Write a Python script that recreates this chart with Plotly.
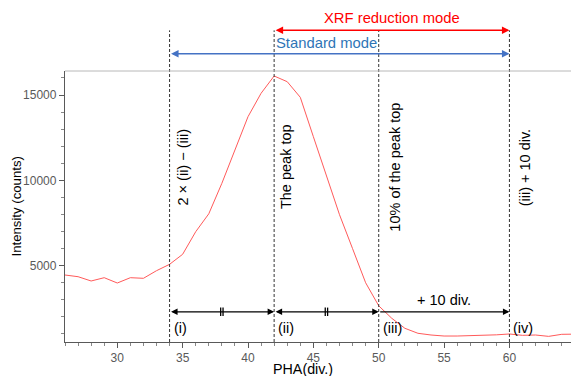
import plotly.graph_objects as go

# ---- data ----
pha = list(range(26, 66))
intensity = [4455, 4356, 4104, 4297, 3986, 4297, 4262, 4707, 5080, 5667,
             6992, 8040, 9827, 11778, 13729, 15100, 16113, 15779, 14865, 12557,
             10272, 7988, 6000, 4000, 2650, 1918, 1333, 1040, 940, 880,
             880, 890, 910, 950, 1000, 920, 940, 860, 980, 990]

marker_pos = [34, 42, 50, 60]
marker_labels = ["(i)", "(ii)", "(iii)", "(iv)"]
line_texts = ["2 × (ii) − (iii)", "The peak top", "10% of the peak top", "(iii) + 10 div."]
text_shift = [13, 12, 16, 16]

x_range = [26, 64.71]
y_range = [530, 16406]
y_ticks = [5000, 10000, 15000]
y_ticklabels = ["5000", "10000", "15000"]
x_ticks = [30, 35, 40, 45, 50, 55, 60, 65]
x_ticklabels = ["30", "35", "40", "45", "50", "55", "60", "65"]

FONT = "Liberation Sans, Arial, sans-serif"
GRAY = "#595959"
arrow_y = 2300

fig = go.Figure()
fig.add_trace(go.Scatter(x=pha, y=intensity, mode="lines",
                         line=dict(color="#ff5a5a", width=1), hoverinfo="skip",
                         showlegend=False))

# equal marks "||" in the middle of the first two spans
mids = [(marker_pos[0] + marker_pos[1]) / 2, (marker_pos[1] + marker_pos[2]) / 2]
eq_x = []
for m in mids:
    eq_x += [m - 0.09, m + 0.09]
fig.add_trace(go.Scatter(x=eq_x, y=[arrow_y] * len(eq_x), mode="markers",
                         marker=dict(symbol="line-ns", size=6,
                                     line=dict(color="black", width=1.3)),
                         hoverinfo="skip", showlegend=False))

shapes = []
for p in marker_pos:
    shapes.append(dict(type="line", xref="x", yref="paper", x0=p, x1=p, y0=0, y1=1.150,
                       line=dict(color="#333333", width=1, dash="3px,2px")))
shapes.append(dict(type="line", xref="paper", yref="paper", x0=0, x1=1, y0=1, y1=1,
                   line=dict(color="#b8b8b8", width=1)))

ann = []
# mode arrows
ann.append(dict(x=marker_pos[3], ax=marker_pos[1], xref="x", axref="x",
                y=1.150, yref="paper", ay=0, ayref="pixel", text="", showarrow=True,
                arrowside="end+start", arrowhead=2, arrowsize=1, arrowwidth=1.5,
                arrowcolor="#ff0000", standoff=0, startstandoff=0))
ann.append(dict(x=marker_pos[3], ax=marker_pos[0], xref="x", axref="x",
                y=1.064, yref="paper", ay=0, ayref="pixel", text="", showarrow=True,
                arrowside="end+start", arrowhead=2, arrowsize=1, arrowwidth=1.5,
                arrowcolor="#4472c4", standoff=0, startstandoff=0))
ann.append(dict(x=(marker_pos[1] + marker_pos[3]) / 2, y=1.194, xref="x", yref="paper",
                xanchor="center", yanchor="middle",
                text="XRF reduction mode", showarrow=False,
                font=dict(family=FONT, size=14.8, color="#ff0000")))
ann.append(dict(x=marker_pos[1], y=1.102, xref="x", yref="paper", xanchor="left",
                yanchor="middle", xshift=0, text="Standard mode", showarrow=False,
                font=dict(family=FONT, size=14.8, color="#2e75b6")))

# black span arrows
spans = [(marker_pos[0], marker_pos[1], "end+start"),
         (marker_pos[1], marker_pos[2], "end+start"),
         (marker_pos[2], marker_pos[3], "end")]
for a, b, side in spans:
    ann.append(dict(x=b, ax=a, xref="x", axref="x", y=arrow_y, yref="y", ay=0,
                    ayref="pixel", text="", showarrow=True, arrowside=side,
                    arrowhead=2, arrowsize=1, arrowwidth=1.3, arrowcolor="black",
                    standoff=0, startstandoff=0))
ann.append(dict(x=(marker_pos[2] + marker_pos[3]) / 2, y=0.154, xref="x", yref="paper",
                xanchor="center", yanchor="middle",
                text="+ 10 div.", showarrow=False,
                font=dict(family=FONT, size=14.5, color="black")))

for p, lab, txt, sh in zip(marker_pos, marker_labels, line_texts, text_shift):
    ann.append(dict(x=p, y=0.0506, xref="x", yref="paper", xanchor="left",
                    yanchor="middle", xshift=2,
                    text=lab, showarrow=False,
                    font=dict(family=FONT, size=14.5, color="black")))
    ann.append(dict(x=p, y=0.646, xref="x", yref="paper", xanchor="center",
                    yanchor="middle", xshift=sh,
                    text=txt, textangle=-90, showarrow=False,
                    font=dict(family=FONT, size=14.5, color="black")))

# axis titles
ann.append(dict(x=0.47, y=-0.099, xref="paper", yref="paper", text="PHA(div.)",
                xanchor="center", yanchor="middle",
                showarrow=False, font=dict(family=FONT, size=14.3, color="black")))
ann.append(dict(x=-0.0949, y=0.5, xref="paper", yref="paper", text="Intensity (counts)",
                xanchor="center", yanchor="middle",
                textangle=-90, showarrow=False,
                font=dict(family=FONT, size=13.2, color="black")))

fig.update_layout(
    width=571, height=376,
    margin=dict(l=65, r=0, t=71, b=34),
    paper_bgcolor="white", plot_bgcolor="white",
    shapes=shapes, annotations=ann, showlegend=False,
    xaxis=dict(range=x_range, tickvals=x_ticks, ticktext=x_ticklabels,
               showgrid=False, zeroline=False,
               showline=True, linecolor=GRAY, linewidth=1, ticks="outside",
               ticklen=5, tickcolor=GRAY, tickfont=dict(family=FONT, size=12, color=GRAY),
               minor=dict(dtick=1, tick0=0, ticks="outside", ticklen=3,
                          tickcolor="#888888", showgrid=False)),
    yaxis=dict(range=y_range, tickvals=y_ticks, ticktext=y_ticklabels,
               showgrid=False, zeroline=False,
               showline=True, linecolor=GRAY, linewidth=1.3, ticks="outside",
               ticklen=5, tickcolor=GRAY, tickfont=dict(family=FONT, size=12, color=GRAY),
               minor=dict(dtick=1000, tick0=0, ticks="outside", ticklen=3,
                          tickcolor="#888888", showgrid=False)),
)

fig.write_html("out.html", config={"displayModeBar": False},
               post_script="document.body.style.margin='0';")
